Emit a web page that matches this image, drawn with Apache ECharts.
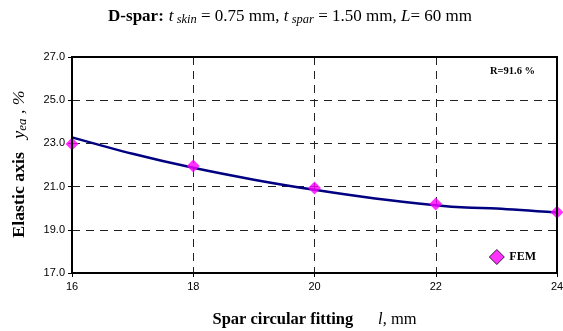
<!DOCTYPE html>
<html><head><meta charset="utf-8">
<script src="https://cdn.jsdelivr.net/npm/echarts@6/dist/echarts.min.js"></script>
<style>html,body{margin:0;padding:0;background:#fff}#c{width:563px;height:331px}</style>
</head><body><div id="c"></div>
<script>
// Data
const curveX = [16, 17, 18, 19, 20, 21, 22, 22.5, 23, 24];
const curveY = [23.28, 22.52, 21.87, 21.32, 20.85, 20.45, 20.14, 20.03, 19.99, 19.80];
const femX = [16, 18, 20, 22, 24];
const femY = [22.97, 21.95, 20.94, 20.19, 19.81];
const xTicks = [16, 18, 20, 22, 24];
const yTicks = [17, 19, 21, 23, 25, 27];

const serif = '"Liberation Serif","Times New Roman",serif';
const sans = '"Liberation Sans",Arial,sans-serif';

const chart = echarts.init(document.getElementById('c'), null, {renderer: 'canvas'});
chart.setOption({
  animation: false,
  title: {
    text: '{b|D-spar:} {i|t}{s| skin}{n| = 0.75 mm, }{i|t}{s| spar}{n| = 1.50 mm, }{i|L}{n|= 60 mm}',
    left: 285, top: 3, textAlign: 'center',
    textStyle: {
      fontWeight: 'normal',
      rich: {
        b: {fontFamily: serif, fontWeight: 'bold', fontSize: 17, color: '#000'},
        n: {fontFamily: serif, fontWeight: 'normal', fontSize: 17, color: '#000'},
        i: {fontFamily: serif, fontWeight: 'normal', fontStyle: 'italic', fontSize: 17, color: '#000'},
        s: {fontFamily: serif, fontWeight: 'normal', fontStyle: 'italic', fontSize: 12.5, color: '#000', verticalAlign: 'bottom', padding: [5, 0, 0, 0]}
      }
    }
  },
  grid: {left: 72, right: 6, top: 57, bottom: 58, outerBoundsMode: 'none', containLabel: false},
  xAxis: {
    type: 'value', min: 16, max: 24, interval: 2,
    axisLine: {show: true, lineStyle: {color: '#000', width: 2}},
    axisTick: {show: true, length: 4, lineStyle: {color: '#000'}},
    axisLabel: {fontFamily: sans, fontSize: 11, color: '#000', margin: 8},
    splitLine: {show: true, lineStyle: {color: '#222', type: [8, 6], width: 1}},
    name: '{b|Spar circular fitting      }{i|l}{n|, mm}',
    nameLocation: 'middle', nameGap: 38,
    nameTextStyle: {
      rich: {
        b: {fontFamily: serif, fontWeight: 'bold', fontSize: 16.5, color: '#000'},
        i: {fontFamily: serif, fontStyle: 'italic', fontSize: 16.5, color: '#000'},
        n: {fontFamily: serif, fontSize: 16.5, color: '#000'}
      }
    }
  },
  yAxis: {
    type: 'value', min: 17, max: 27, interval: 2,
    axisLine: {show: true, lineStyle: {color: '#000', width: 2}},
    axisTick: {show: true, length: 4, lineStyle: {color: '#000'}},
    axisLabel: {fontFamily: sans, fontSize: 11, color: '#000', margin: 7, formatter: v => v.toFixed(1)},
    splitLine: {show: true, lineStyle: {color: '#222', type: [8, 6], width: 1}}
  },
  legend: {
    data: [{name: 'FEM', icon: 'diamond'}],
    right: 22, top: 244, itemWidth: 15, itemHeight: 15, itemGap: 4,
    itemStyle: {borderColor: '#000', borderWidth: 1},
    textStyle: {fontFamily: serif, fontWeight: 'bold', fontSize: 12, color: '#000'}
  },
  graphic: [
    {type: 'rect', shape: {x: 72, y: 57, width: 485, height: 216}, style: {fill: 'none', stroke: '#000', lineWidth: 2}, z: 10},
    {type: 'text', left: 490, top: 66, style: {text: 'R=91.6 %', font: 'bold 10.5px ' + serif, fill: '#000'}},
    {
      type: 'text', x: 20, y: 164, rotation: Math.PI / 2, scaleX: 1.08, scaleY: 1,
      style: {
        text: '{b|Elastic axis   }{i|y}{s|ea}{n| , %}',
        align: 'center', verticalAlign: 'middle',
        rich: {
          b: {fontFamily: serif, fontWeight: 'bold', fontSize: 16.5, fill: '#000'},
          i: {fontFamily: serif, fontStyle: 'italic', fontSize: 16.5, fill: '#000'},
          s: {fontFamily: serif, fontStyle: 'italic', fontSize: 12, fill: '#000', verticalAlign: 'bottom', padding: [5, 0, 0, 0]},
          n: {fontFamily: serif, fontStyle: 'italic', fontSize: 16.5, fill: '#000'}
        }
      }
    }
  ],
  series: [
    {
      name: 'curve', type: 'line', smooth: 0.3, symbol: 'none',
      data: curveX.map((x, i) => [x, curveY[i]]),
      lineStyle: {color: '#000080', width: 2.5}, z: 3
    },
    {
      name: 'FEM', type: 'scatter', symbol: 'diamond', symbolSize: 13, clip: false,
      data: femX.map((x, i) => [x, femY[i]]),
      itemStyle: {color: '#ff00ff'}, z: 5
    }
  ]
});
</script></body></html>
